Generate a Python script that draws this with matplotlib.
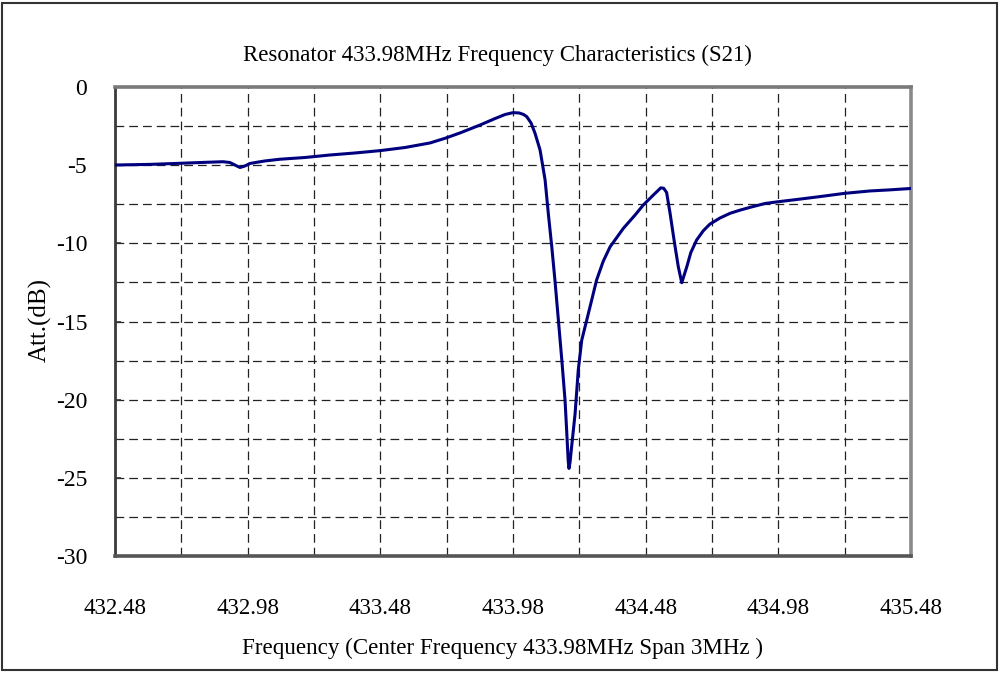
import matplotlib
matplotlib.use("Agg")
import matplotlib.pyplot as plt
from matplotlib.patches import Rectangle
import numpy as np

# Data (frequency in MHz, attenuation in dB)
freq = [432.480, 432.612, 432.725, 432.819, 432.887, 432.913, 432.932, 432.951,
        432.970, 432.989, 433.045, 433.102, 433.196, 433.290, 433.385, 433.479,
        433.573, 433.667, 433.724, 433.780, 433.856, 433.912, 433.950, 433.980,
        434.003, 434.020, 434.032, 434.048, 434.063, 434.082, 434.101, 434.113,
        434.126, 434.138, 434.151, 434.164, 434.176, 434.182, 434.188, 434.191,
        434.195, 434.201, 434.214, 434.226, 434.239, 434.258, 434.277, 434.295,
        434.320, 434.346, 434.396, 434.440, 434.471, 434.509, 434.537, 434.548,
        434.559, 434.572, 434.587, 434.603, 434.616, 434.635, 434.650, 434.672,
        434.697, 434.722, 434.760, 434.798, 434.835, 434.873, 434.930, 434.979,
        435.062, 435.137, 435.231, 435.325, 435.400, 435.480]
att = [-4.99, -4.95, -4.88, -4.82, -4.78, -4.83, -4.99, -5.15,
       -5.05, -4.89, -4.73, -4.62, -4.51, -4.35, -4.22, -4.07,
       -3.87, -3.58, -3.28, -2.94, -2.43, -2.02, -1.76, -1.64,
       -1.66, -1.76, -1.90, -2.30, -2.96, -4.03, -5.95, -8.08,
       -10.20, -12.35, -14.90, -17.47, -20.00, -21.90, -23.90, -24.40,
       -24.00, -23.00, -20.90, -18.10, -16.20, -14.90, -13.60, -12.35,
       -11.15, -10.22, -9.04, -8.19, -7.55, -6.91, -6.45, -6.48,
       -6.75, -8.08, -9.79, -11.50, -12.52, -11.50, -10.60, -9.79,
       -9.20, -8.77, -8.38, -8.08, -7.88, -7.70, -7.45, -7.34,
       -7.17, -7.01, -6.80, -6.65, -6.58, -6.49]

x_ticks = [432.48, 432.98, 433.48, 433.98, 434.48, 434.98, 435.48]
x_tick_labels = ["432.48", "432.98", "433.48", "433.98", "434.48", "434.98", "435.48"]
y_ticks = [0, -5, -10, -15, -20, -25, -30]
y_tick_labels = ["0", "-5", "-10", "-15", "-20", "-25", "-30"]

title = "Resonator 433.98MHz Frequency Characteristics (S21)"
xlabel = "Frequency (Center Frequency 433.98MHz Span 3MHz )"
ylabel = "Att.(dB)"

plt.rcParams['font.family'] = ['Liberation Serif', 'DejaVu Serif']

fig = plt.figure(figsize=(10.01, 6.73), dpi=100)
fig.patch.set_facecolor('white')
W, H = 1001, 673
ax = fig.add_axes([115 / W, 1 - 556 / H, (911 - 115) / W, (556 - 87) / H])

ax.plot(freq, att, color='#00007f', lw=2.2, solid_joinstyle='round', zorder=3)

ax.set_xlim(432.48, 435.48)
ax.set_ylim(-30, 0)

# grid lines every 0.25 MHz and 2.5 dB
for gx in np.arange(432.73, 435.40, 0.25):
    ax.axvline(gx, color='#222222', lw=0.9, dashes=(7, 4), zorder=1)
for gy in np.arange(-27.5, 0, 2.5):
    ax.axhline(gy, color='#222222', lw=0.9, dashes=(7, 4), zorder=1)

ax.set_xticks(x_ticks)
ax.set_xticklabels(x_tick_labels)
ax.set_yticks(y_ticks)
ax.set_yticklabels(y_tick_labels)
ax.tick_params(axis='x', length=0, pad=30, labelsize=16.5)
ax.tick_params(axis='y', direction='in', length=4, width=1.2, color='#333333',
               pad=20, labelsize=17)

for side, col, lw in [('left', '#3a3a3a', 2.0), ('bottom', '#555555', 2.6),
                      ('top', '#7a7a7a', 2.6), ('right', '#8a8a8a', 2.6)]:
    ax.spines[side].set_color(col)
    ax.spines[side].set_linewidth(lw)

fig.text(497 / W, 1 - 55 / H, title, ha='center', va='center', fontsize=16.5)
fig.text(503 / W, 1 - 648 / H, xlabel, ha='center', va='center', fontsize=16.6)
fig.text(40 / W, 1 - 320 / H, ylabel, ha='center', va='center', rotation=90, fontsize=18)

# outer frame
fig.patches.append(Rectangle((2 / W, 3 / H), 995 / W, 667 / H, transform=fig.transFigure,
                             fill=False, edgecolor='#333333', lw=1.5))

fig.savefig("out.png", dpi=100)
